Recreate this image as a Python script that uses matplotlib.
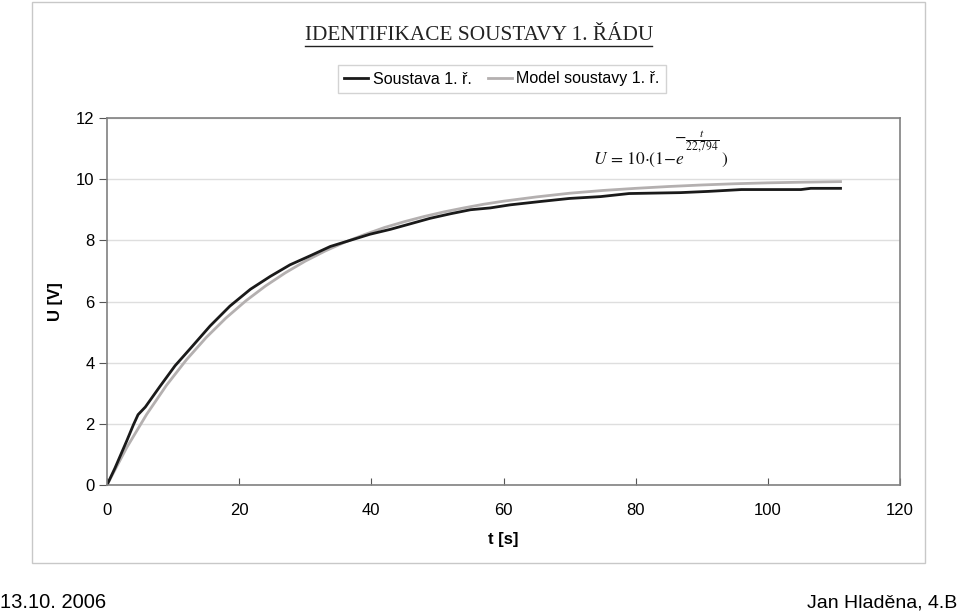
import matplotlib.pyplot as plt
from matplotlib.patches import Rectangle
from matplotlib.lines import Line2D

t_meas = [0, 1.2, 2, 3, 4, 4.7, 5.8, 8, 10.3, 12.6, 15.6, 18.6, 21.7, 24.7,
          27.7, 30.8, 33.8, 36.8, 39.8, 42.9, 45.9, 48.9, 52, 55, 58, 61,
          65.6, 70, 74.7, 79, 86.8, 91, 96, 105, 106.5, 111]
u_meas = [0, 0.55, 0.95, 1.45, 1.97, 2.3, 2.55, 3.22, 3.9, 4.46, 5.2, 5.85,
          6.4, 6.82, 7.2, 7.5, 7.8, 8.0, 8.2, 8.36, 8.54, 8.72, 8.87,
          9.0, 9.06, 9.16, 9.27, 9.37, 9.43, 9.53, 9.56, 9.6, 9.66, 9.66,
          9.7, 9.7]

# model curve values
t_model = [0, 3, 6, 9, 12, 15, 18, 21, 24, 27, 30, 33, 36, 39, 42, 45, 48,
           51, 54, 57, 60, 65, 70, 75, 80, 85, 90, 95, 100, 105, 111]
u_model = [0, 1.23, 2.31, 3.26, 4.09, 4.82, 5.46, 6.02, 6.51, 6.94, 7.32,
           7.65, 7.94, 8.19, 8.42, 8.61, 8.78, 8.93, 9.06, 9.18, 9.28, 9.42,
           9.54, 9.63, 9.70, 9.76, 9.81, 9.85, 9.88, 9.90, 9.92]

x_ticks = [0, 20, 40, 60, 80, 100, 120]
y_ticks = [0, 2, 4, 6, 8, 10, 12]

plt.rcParams['font.family'] = ['Liberation Sans', 'DejaVu Sans']
plt.rcParams['mathtext.fontset'] = 'stix'

W, H = 960, 613
fig = plt.figure(figsize=(9.6, 6.13), dpi=100)


def fx(px):
    return px / W


def fy(py):
    return 1 - py / H


# outer chart frame
fig.patches.append(Rectangle((fx(32), fy(563)), (925 - 32) / W, (563 - 2) / H,
                             transform=fig.transFigure, fill=False,
                             edgecolor='#c8c8c8', lw=1.0))

ax = fig.add_axes([fx(107), fy(485), (900 - 107) / W, (485 - 118) / H])
ax.plot(t_model, u_model, color='#b4b0b0', lw=2.0)
ax.plot(t_meas, u_meas, color='#1a1a1a', lw=2.0)

ax.set_xlim(0, 120)
ax.set_ylim(0, 12)
ax.set_xticks(x_ticks)
ax.set_yticks(y_ticks)
ax.tick_params(axis='y', direction='out', length=6, color='#555555',
               labelsize=12, pad=3)
ax.tick_params(axis='x', direction='in', length=5, color='#555555',
               labelsize=12, pad=13)
ax.grid(axis='y', color='#dedede', lw=1.0)
ax.set_axisbelow(True)
for s in ax.spines.values():
    s.set_color('#808080')
    s.set_linewidth(1.2)

ax.set_xlabel('t [s]', fontsize=12, fontweight='bold', labelpad=10)
ax.set_ylabel('U [V]', fontsize=12, fontweight='bold', labelpad=9)

# model equation, set in three pieces like the equation editor did
fig.text(fx(593), fy(160), r'$U\,{=}\,10{\cdot}(1{-}e$', fontsize=12.5,
         ha='left', va='center', color='#111111')
fig.text(fx(674), fy(142), r'$-\frac{t}{22{,}794}$', fontsize=12,
         ha='left', va='center', color='#111111')
fig.text(fx(721), fy(160), r'$)$', fontsize=12.5,
         ha='left', va='center', color='#111111')

# title, underlined
fig.text(fx(479), fy(35), 'IDENTIFIKACE SOUSTAVY 1. ŘÁDU',
         family=['Liberation Serif', 'DejaVu Serif'], fontsize=15.3,
         ha='center', va='center', color='#222222')
fig.add_artist(Line2D([fx(305), fx(652)], [fy(46), fy(46)],
                      transform=fig.transFigure, color='#222222', lw=1.0))

handles = [Line2D([], [], color='#1a1a1a', lw=2.0),
           Line2D([], [], color='#b4b0b0', lw=2.0)]
leg = fig.legend(handles, ['Soustava 1. ř.', 'Model soustavy 1. ř.'],
                 loc='center', bbox_to_anchor=(fx(502), fy(79)), ncol=2,
                 fontsize=11.5, frameon=True, fancybox=False, handlelength=1.5,
                 handletextpad=0.3, columnspacing=1.0, borderpad=0.4)
leg.get_frame().set_edgecolor('#c8c8c8')
leg.get_frame().set_linewidth(1.0)

fig.text(0.0, fy(603), '13.10. 2006', fontsize=14.5, ha='left', va='center')
fig.text(fx(957), fy(603), 'Jan Hladěna, 4.B', fontsize=14, ha='right',
         va='center')

fig.savefig('out.png', dpi=100)
